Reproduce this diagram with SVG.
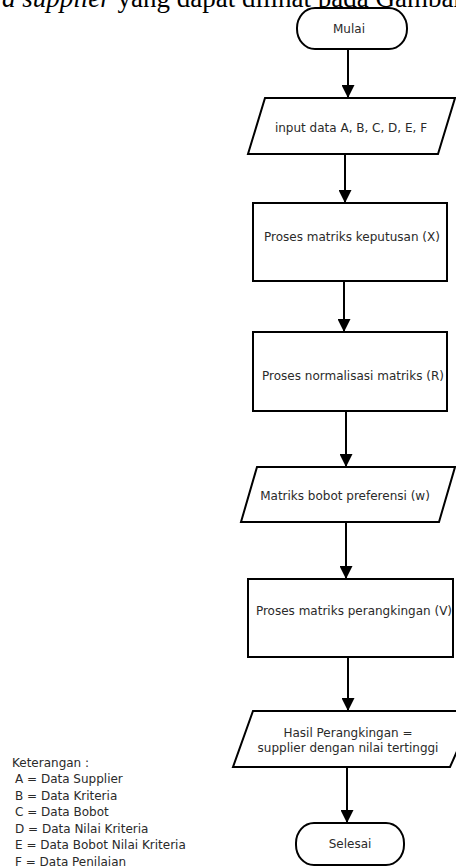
<svg xmlns="http://www.w3.org/2000/svg" width="456" height="867" viewBox="0 0 456 867">
<style>
  .shape { fill: #ffffff; stroke: #000000; stroke-width: 2; }
  .lbl { font-family: "DejaVu Sans", sans-serif; font-size: 12px; fill: #2a2a2a; text-anchor: middle; }
  .leg { font-family: "DejaVu Sans", sans-serif; font-size: 12px; fill: #2a2a2a; }
  .cap { font-family: "Liberation Serif", serif; font-size: 27px; fill: #000000; }
  .conn { stroke: #000000; stroke-width: 2; fill: none; marker-end: url(#arrow); }
</style>
<defs>
  <marker id="arrow" viewBox="0 0 13 13" refX="13" refY="6.5" markerWidth="13" markerHeight="13" markerUnits="userSpaceOnUse" orient="auto">
    <path d="M0,0 L13,6.5 L0,13 Z" fill="#000000"/>
  </marker>
</defs>
<rect width="456" height="867" fill="#ffffff"/>

<g id="caption">
  <text class="cap" x="2" y="7"><tspan font-style="italic">a supplier</tspan> yang dapat dilihat pada Gambar</text>
</g>

<g id="connectors">
  <line class="conn" x1="348" y1="49" x2="348" y2="98"/>
  <line class="conn" x1="345" y1="154" x2="345" y2="203"/>
  <line class="conn" x1="344" y1="281" x2="344" y2="332"/>
  <line class="conn" x1="346" y1="411" x2="346" y2="467"/>
  <line class="conn" x1="346" y1="522" x2="346" y2="579"/>
  <line class="conn" x1="348" y1="657" x2="348" y2="711"/>
  <line class="conn" x1="347" y1="767" x2="347" y2="823"/>
</g>

<g id="mulai">
  <rect class="shape" x="297" y="8" width="110" height="41" rx="18" ry="20"/>
  <text class="lbl" x="349" y="33">Mulai</text>
</g>

<g id="input">
  <polygon class="shape" points="265,98 455,98 438,154 248,154"/>
  <text class="lbl" x="351" y="132">input data A, B, C, D, E, F</text>
</g>

<g id="proses-x">
  <rect class="shape" x="253" y="203" width="194" height="78"/>
  <text class="lbl" x="352" y="241">Proses matriks keputusan (X)</text>
</g>

<g id="proses-r">
  <rect class="shape" x="253" y="332" width="194" height="79"/>
  <text class="lbl" x="353" y="380">Proses normalisasi matriks (R)</text>
</g>

<g id="bobot-w">
  <polygon class="shape" points="257,467 455,467 439,522 241,522"/>
  <text class="lbl" x="345" y="500">Matriks bobot preferensi (w)</text>
</g>

<g id="proses-v">
  <rect class="shape" x="248" y="579" width="205" height="78"/>
  <text class="lbl" x="354" y="615">Proses matriks perangkingan (V)</text>
</g>

<g id="hasil">
  <polygon class="shape" points="253,711 475,711 450,767 233,767"/>
  <text class="lbl" x="348" y="737">Hasil Perangkingan =</text>
  <text class="lbl" x="348" y="752">supplier dengan nilai tertinggi</text>
</g>

<g id="selesai">
  <rect class="shape" x="296" y="823" width="108" height="42" rx="18" ry="20"/>
  <text class="lbl" x="350" y="848">Selesai</text>
</g>

<g id="keterangan">
  <text class="leg" x="12" y="766.5">Keterangan :</text>
  <text class="leg" x="15" y="783">A = Data Supplier</text>
  <text class="leg" x="15" y="799.6">B = Data Kriteria</text>
  <text class="leg" x="15" y="816.2">C = Data Bobot</text>
  <text class="leg" x="15" y="832.8">D = Data Nilai Kriteria</text>
  <text class="leg" x="15" y="849.4">E = Data Bobot Nilai Kriteria</text>
  <text class="leg" x="15" y="866">F = Data Penilaian</text>
</g>
</svg>
